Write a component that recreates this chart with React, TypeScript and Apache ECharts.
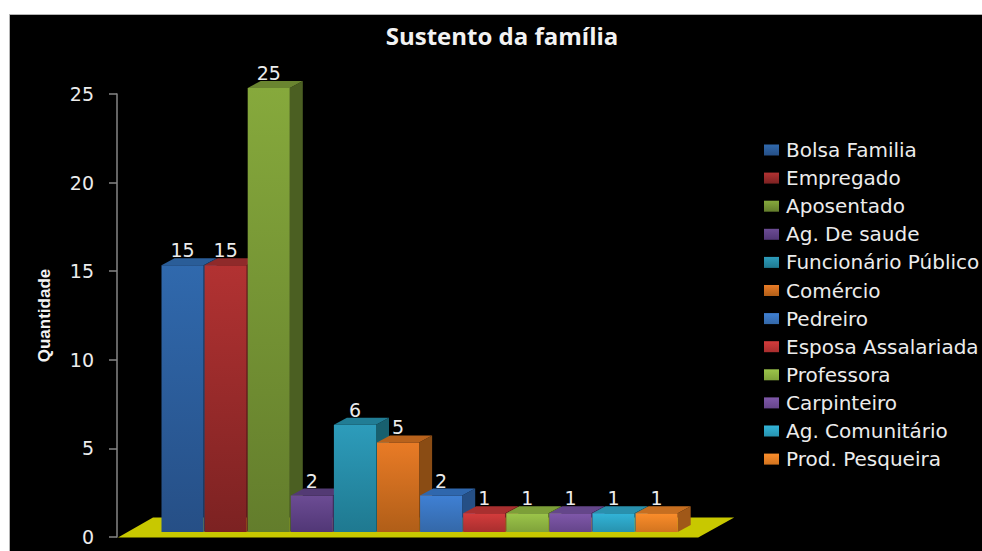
import React, { useEffect, useRef } from "react";
import * as echarts from "echarts";

const categories = [
  "Bolsa Familia", "Empregado", "Aposentado", "Ag. De saude",
  "Funcionário Público", "Comércio", "Pedreiro", "Esposa Assalariada",
  "Professora", "Carpinteiro", "Ag. Comunitário", "Prod. Pesqueira",
];
const quantities = [15, 15, 25, 2, 6, 5, 2, 1, 1, 1, 1, 1];
const frontTop = ["#3069ad", "#b23232", "#86a93c", "#6c4c94", "#2d9cbb", "#e97b26", "#3f80d4", "#d43c3c", "#9cc54a", "#7f58aa", "#32b4d8", "#fb8d2b"];
const frontBottom = ["#264f86", "#7c2222", "#637d2c", "#513776", "#1f7990", "#b05e18", "#3468a8", "#a82e2e", "#7fa23a", "#65458a", "#2792ae", "#d2741f"];
const topFace = ["#2a5d98", "#8f2a2a", "#6a8530", "#533a74", "#217d95", "#b8621c", "#2f67ad", "#a82f2f", "#7c9f38", "#64468a", "#2990ad", "#c66e20"];
const sideFace = ["#1d3f68", "#5f1c1c", "#4b5f22", "#3c2a56", "#18606f", "#8a4c14", "#254f85", "#7d2323", "#5e7a2a", "#4b3468", "#1e6f86", "#a05818"];

const DEPTH_X = 13;
const DEPTH_Y = 7;
const FLOOR_COLOR = "#c8c800";
const TEXT_COLOR = "#ececec";
const FONT = "'DejaVu Sans'";

function renderBar(index: number) {
  return (_params: any, api: any) => {
    const cat = api.value(0);
    const val = api.value(1);
    const band = api.size([1, 0])[0];
    const cx = api.coord([cat, 0])[0];
    const base = api.coord([cat, 0])[1] - 5;
    const top = api.coord([cat, val])[1] - 6;
    const l = cx - band / 2 + 0.5;
    const r = cx + band / 2 - 0.5;
    return {
      type: "group",
      children: [
        {
          type: "polygon",
          shape: { points: [[r, top], [r + DEPTH_X, top - DEPTH_Y], [r + DEPTH_X, base - DEPTH_Y], [r, base]] },
          style: { fill: sideFace[index] },
        },
        {
          type: "polygon",
          shape: { points: [[l, top], [l + DEPTH_X, top - DEPTH_Y], [r + DEPTH_X, top - DEPTH_Y], [r, top]] },
          style: { fill: topFace[index] },
        },
        {
          type: "rect",
          shape: { x: l, y: top, width: r - l, height: base - top },
          style: {
            fill: new echarts.graphic.LinearGradient(0, 0, 0, 1, [
              { offset: 0, color: frontTop[index] },
              { offset: 1, color: frontBottom[index] },
            ]),
          },
        },
        {
          type: "text",
          z2: 10,
          style: {
            x: cx,
            y: top - 15,
            text: String(val),
            fill: TEXT_COLOR,
            font: `19px ${FONT}`,
            align: "center",
            verticalAlign: "middle",
          },
        },
      ],
    };
  };
}

// Yellow platform the columns stand on, sized from the plot area.
function renderFloor(params: any) {
  const sys = params.coordSys;
  const left = sys.x;
  const right = sys.x + sys.width;
  const bottom = sys.y + sys.height + 0.5;
  return {
    type: "polygon",
    shape: {
      points: [
        [left - 43, bottom],
        [right + 20, bottom],
        [right + 56, bottom - 20],
        [left - 8, bottom - 20],
      ],
    },
    style: { fill: FLOOR_COLOR },
  };
}

export default function App() {
  const ref = useRef<HTMLDivElement>(null);

  useEffect(() => {
    const chart = echarts.init(ref.current!, undefined, { renderer: "svg" });
    chart.setOption({
      animation: false,
      backgroundColor: "#ffffff",
      graphic: [
        {
          type: "rect",
          z: -1,
          shape: { x: 9.5, y: 14.5, width: 980, height: 545 },
          style: { fill: "#000000", stroke: "#b5b5b5", lineWidth: 1 },
        },
      ],
      title: {
        text: "Sustento da família",
        left: 497,
        top: 18,
        textAlign: "center",
        textStyle: { color: "#f2f2f2", fontFamily: "'Open Sans'", fontWeight: "bold", fontSize: 24 },
      },
      legend: {
        orient: "vertical",
        left: 764,
        top: 140,
        padding: 0,
        itemWidth: 15,
        itemHeight: 11,
        itemGap: 8.1,
        icon: "rect",
        selectedMode: false,
        data: categories,
        textStyle: { color: TEXT_COLOR, fontFamily: FONT, fontSize: 20, lineHeight: 20, padding: [0, 0, 0, 2] },
      },
      grid: { left: 161, width: 517.2, top: 94, height: 443 },
      xAxis: {
        type: "category",
        data: categories,
        axisLine: { show: false },
        axisTick: { show: false },
        axisLabel: { show: false },
        splitLine: { show: false },
      },
      yAxis: {
        type: "value",
        min: 0,
        max: 25,
        interval: 5,
        offset: 44,
        name: "Quantidade",
        nameLocation: "middle",
        nameRotate: 90,
        nameGap: 64,
        nameTextStyle: { color: "#f2f2f2", fontFamily: "'Liberation Sans'", fontWeight: "bold", fontSize: 17 },
        axisLine: { show: true, onZero: false, lineStyle: { color: "#868686", width: 1.5 } },
        axisTick: { show: true, length: 8, lineStyle: { color: "#868686", width: 1.5 } },
        axisLabel: { color: TEXT_COLOR, fontFamily: FONT, fontSize: 19, margin: 23 },
        splitLine: { show: false },
      },
      series: [
        {
          type: "custom",
          name: "floor",
          silent: true,
          z: 1,
          renderItem: renderFloor,
          encode: { x: 0, y: 1 },
          data: [[0, 0]],
        },
        ...categories.map((name, i) => ({
          type: "custom",
          name,
          z: 2,
          itemStyle: {
            color: new echarts.graphic.LinearGradient(0, 0, 0, 1, [
              { offset: 0, color: frontTop[i] },
              { offset: 1, color: frontBottom[i] },
            ]),
          },
          renderItem: renderBar(i),
          encode: { x: 0, y: 1 },
          data: [[i, quantities[i]]],
        })),
      ],
    });
    return () => chart.dispose();
  }, []);

  return <div ref={ref} style={{ position: "absolute", left: 0, top: 0, width: 982, height: 551 }} />;
}
